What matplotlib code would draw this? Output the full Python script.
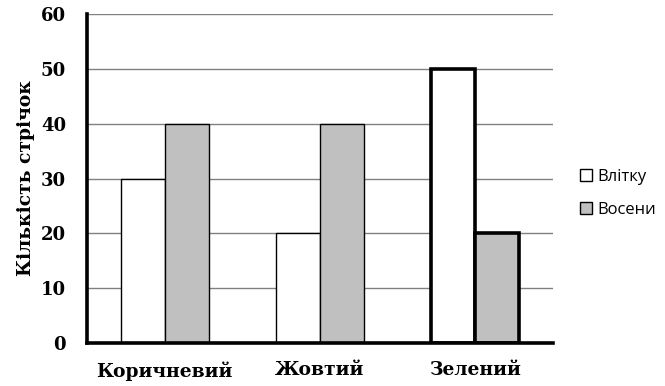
import matplotlib

matplotlib.use("Agg")
import matplotlib.pyplot as plt
import numpy as np
from matplotlib.patches import Rectangle

categories = ["Коричневий", "Жовтий", "Зелений"]
summer = [30, 20, 50]
autumn = [40, 40, 20]
series_names = ["Влітку", "Восени"]
y_label = "Кількість стрічок"
y_ticks = [0, 10, 20, 30, 40, 50, 60]

SERIF = "DejaVu Serif"
SANS = "Open Sans"

fig = plt.figure(figsize=(6.65, 3.86), dpi=100)
ax = fig.add_axes([0.1308, 0.1114, 0.7008, 0.8523])

x = np.arange(len(categories))
w = 0.283
edge_w = [1.0, 1.0, 2.6]  # last group drawn with heavy outline
for i in range(len(categories)):
    ax.bar(x[i] - w / 2, summer[i], width=w, color="white", edgecolor="black",
           linewidth=edge_w[i], zorder=3)
    ax.bar(x[i] + w / 2, autumn[i], width=w, color="#c0c0c0", edgecolor="black",
           linewidth=edge_w[i], zorder=3)

ax.set_xlim(-0.5, 2.5)
ax.set_ylim(0, 60)
ax.set_yticks(y_ticks)
ax.set_xticks(x)
ax.set_xticklabels(categories, fontfamily=SERIF, fontweight="bold", fontsize=13.5)
ax.set_yticklabels([str(t) for t in y_ticks], fontfamily=SERIF, fontweight="bold", fontsize=13)
ax.tick_params(axis="both", length=0)
ax.tick_params(axis="y", pad=15)
ax.tick_params(axis="x", pad=13)
ax.grid(axis="y", color="#808080", linewidth=1.0, zorder=0)
ax.set_axisbelow(True)

for side in ("top", "right"):
    ax.spines[side].set_visible(False)
for side in ("left", "bottom"):
    ax.spines[side].set_linewidth(2.6)
    ax.spines[side].set_zorder(4)

ax.set_ylabel(y_label, fontfamily=SERIF, fontweight="bold", fontsize=13.5, labelpad=4)

handles = [Rectangle((0, 0), 1, 1, facecolor="white", edgecolor="black", linewidth=1),
           Rectangle((0, 0), 1, 1, facecolor="#c0c0c0", edgecolor="black", linewidth=1)]
fig.legend(handles, series_names, loc="center left", bbox_to_anchor=(0.85, 0.499),
           frameon=False, prop={"family": SANS, "size": 12},
           handlelength=0.7, handleheight=0.7, handletextpad=0.35, labelspacing=1.0)

fig.savefig("out.png", dpi=100)
